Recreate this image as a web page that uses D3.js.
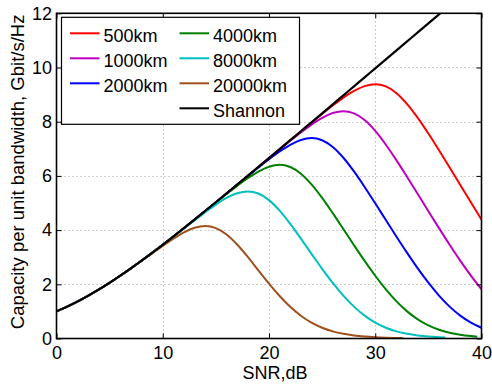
<!DOCTYPE html>
<html>
<head>
<meta charset="utf-8">
<script src="https://cdn.jsdelivr.net/npm/d3@7"></script>
<style>
  html, body { margin: 0; padding: 0; background: #fff; }
  svg { display: block; }
  text { font-family: "Liberation Sans", Arial, Helvetica, sans-serif; fill: #000; }
</style>
</head>
<body>
<svg id="chart" width="492" height="387"></svg>
<script>
// ---------------- data ----------------
const snrDb = [0,1,2,3,4,5,6,7,8,9,10,11,12,13,14,15,16,17,18,19,20,
               21,22,23,24,25,26,27,28,29,30,31,32,33,34,35,36,37,38,39,40];

const seriesNames = ["500km", "1000km", "2000km", "4000km", "8000km", "20000km", "Shannon"];
const seriesColors = ["#ff0000", "#bf00bf", "#0000ff", "#008000", "#00bfbf", "#a0501e", "#000000"];

// Shannon limit (values at 0..37 dB)
const shannon = [1.000,1.176,1.370,1.583,1.812,2.057,2.317,2.588,2.870,3.161,3.459,3.764,4.075,4.389,
  4.707,5.028,5.351,5.676,6.002,6.330,6.658,6.987,7.317,7.648,7.978,8.309,8.641,8.972,9.304,9.636,
  9.967,10.299,10.631,10.963,11.295,11.627,11.959,12.291];

const cap500 = [1.000,1.176,1.370,1.583,1.812,2.057,2.317,2.588,2.870,3.161,3.459,3.764,4.075,4.389,
  4.707,5.028,5.351,5.676,6.002,6.330,6.658,6.986,7.315,7.642,7.967,8.287,8.596,8.884,9.133,9.313,
  9.383,9.302,9.053,8.652,8.142,7.563,6.946,6.311,5.668,5.026,4.390];

const cap1000 = [1.000,1.176,1.370,1.583,1.812,2.057,2.317,2.588,2.870,3.161,3.459,3.764,4.075,4.389,
  4.707,5.028,5.351,5.675,6.001,6.327,6.653,6.976,7.295,7.603,7.891,8.139,8.319,8.389,8.308,8.059,
  7.659,7.150,6.574,5.961,5.332,4.699,4.073,3.460,2.872,2.319,1.815];

const cap2000 = [1.000,1.176,1.370,1.583,1.812,2.057,2.317,2.588,2.870,3.161,3.459,3.764,4.075,4.389,
  4.706,5.026,5.348,5.670,5.991,6.307,6.614,6.900,7.148,7.327,7.396,7.316,7.067,6.670,6.164,5.593,
  4.988,4.371,3.757,3.159,2.588,2.059,1.585,1.177,0.845,0.587,0.397];

const cap4000 = [1.000,1.176,1.370,1.583,1.812,2.057,2.317,2.588,2.870,3.161,3.459,3.764,4.073,4.386,
  4.702,5.017,5.329,5.632,5.916,6.161,6.339,6.408,6.328,6.082,5.687,5.187,4.625,4.036,3.442,2.863,
  2.315,1.813,1.371,1.001,0.707,0.484,0.324,0.213,0.138,0.089,0.068];

const cap8000 = [1.000,1.176,1.370,1.583,1.812,2.057,2.317,2.588,2.869,3.160,3.457,3.759,4.064,4.368,
  4.664,4.943,5.185,5.360,5.428,5.349,5.106,4.718,4.230,3.686,3.124,2.572,2.051,1.581,1.176,0.844,
  0.587,0.397,0.263,0.172,0.111,0.071,0.045,0.034];

const cap20000 = [1.000,1.176,1.370,1.583,1.812,2.056,2.314,2.583,2.860,3.141,3.419,3.683,3.915,4.084,
  4.149,4.073,3.839,3.470,3.013,2.517,2.026,1.570,1.171,0.842,0.586,0.397,0.263,0.172,0.111,0.071,
  0.045,0.029,0.018,0.014];

// SNR of the final sample of each series (the shorter runs stop before 40 dB)
const lastSnr = [40, 40, 40, 39.6, 36.6, 32.6, 37];

const xTicks = [0, 10, 20, 30, 40];
const yTicks = [0, 2, 4, 6, 8, 10, 12];

// ---------------- chart ----------------
const svg = d3.select("#chart");
const pLeft = 56.5, pRight = 481.5, pTop = 13.3, pBottom = 338.5;
const x = d3.scaleLinear().domain([0, 40]).range([pLeft, pRight]);
const y = d3.scaleLinear().domain([0, 12]).range([pBottom, pTop]);

const allSeries = [cap500, cap1000, cap2000, cap4000, cap8000, cap20000, shannon];

// clip
svg.append("defs").append("clipPath").attr("id", "plotClip")
  .append("rect").attr("x", pLeft).attr("y", pTop).attr("width", pRight - pLeft).attr("height", pBottom - pTop);

// grid
const grid = svg.append("g").attr("stroke", "#a0a0a0").attr("stroke-width", 1).attr("stroke-dasharray", "1,3");
grid.selectAll("line.gx").data(xTicks.slice(1, -1)).join("line")
  .attr("x1", d => Math.round(x(d)) + 0.5).attr("x2", d => Math.round(x(d)) + 0.5)
  .attr("y1", pTop).attr("y2", pBottom);
grid.selectAll("line.gy").data(yTicks.slice(1, -1)).join("line")
  .attr("y1", d => Math.round(y(d)) + 0.5).attr("y2", d => Math.round(y(d)) + 0.5)
  .attr("x1", pLeft).attr("x2", pRight);

// lines
const lineGen = d3.line()
  .x(d => x(d[0])).y(d => y(d[1]))
  .curve(d3.curveMonotoneX);

const plot = svg.append("g").attr("clip-path", "url(#plotClip)");
allSeries.forEach((vals, k) => {
  const pts = vals.map((v, i) => [i < vals.length - 1 ? snrDb[i] : lastSnr[k], v]);
  plot.append("path")
    .datum(pts)
    .attr("fill", "none")
    .attr("stroke", seriesColors[k])
    .attr("stroke-width", k === 6 ? 2.2 : 2)
    .attr("stroke-linejoin", "round")
    .attr("d", lineGen);
});

// axes (ticks inward, box on)
const fontSize = "18px";
const axB = svg.append("g").attr("transform", `translate(0,${pBottom})`)
  .call(d3.axisBottom(x).tickValues(xTicks).tickSizeInner(-5).tickSizeOuter(0).tickPadding(8));
const axL = svg.append("g").attr("transform", `translate(${pLeft},0)`)
  .call(d3.axisLeft(y).tickValues(yTicks).tickSizeInner(-5).tickSizeOuter(0).tickPadding(4.5));
const axT = svg.append("g").attr("transform", `translate(0,${pTop})`)
  .call(d3.axisTop(x).tickValues(xTicks).tickSizeInner(-5).tickSizeOuter(0).tickFormat(""));
const axR = svg.append("g").attr("transform", `translate(${pRight},0)`)
  .call(d3.axisRight(y).tickValues(yTicks).tickSizeInner(-5).tickSizeOuter(0).tickFormat(""));
[axB, axL, axT, axR].forEach(a => {
  a.select(".domain").remove();
  a.selectAll(".tick line").attr("stroke", "#000").attr("stroke-width", 1);
  a.selectAll("text").style("font-size", fontSize).attr("fill", "#000")
    .style("font-family", '"Liberation Sans", Arial, sans-serif');
});

// frame
svg.append("rect")
  .attr("x", pLeft).attr("y", pTop).attr("width", pRight - pLeft).attr("height", pBottom - pTop)
  .attr("fill", "none").attr("stroke", "#000").attr("stroke-width", 1.6);

// axis titles
svg.append("text").attr("x", 275).attr("y", 379).attr("text-anchor", "middle")
  .style("font-size", fontSize).text("SNR,dB");
svg.append("text")
  .attr("transform", `translate(23.5,${(pTop + pBottom) / 2 - 4}) rotate(-90)`)
  .attr("text-anchor", "middle").style("font-size", "18.5px")
  .text("Capacity per unit bandwidth, Gbit/s/Hz");

// legend
const lg = svg.append("g");
lg.append("rect").attr("x", 61.5).attr("y", 17.3).attr("width", 238).attr("height", 107)
  .attr("fill", "#fff").attr("stroke", "#000").attr("stroke-width", 1.2);
const legendPos = [[0,0],[0,1],[0,2],[1,0],[1,1],[1,2],[1,3]];
const colX = [70, 179.5], rowY = [33.3, 58.3, 83.3, 108.3];
seriesNames.forEach((name, k) => {
  const [c, r] = legendPos[k];
  const lx = colX[c], ly = rowY[r];
  lg.append("line").attr("x1", lx).attr("x2", lx + 29.5).attr("y1", ly).attr("y2", ly)
    .attr("stroke", seriesColors[k]).attr("stroke-width", 2);
  lg.append("text").attr("x", lx + 33.5).attr("y", ly + 9)
    .style("font-size", fontSize).text(name);
});
</script>
</body>
</html>
